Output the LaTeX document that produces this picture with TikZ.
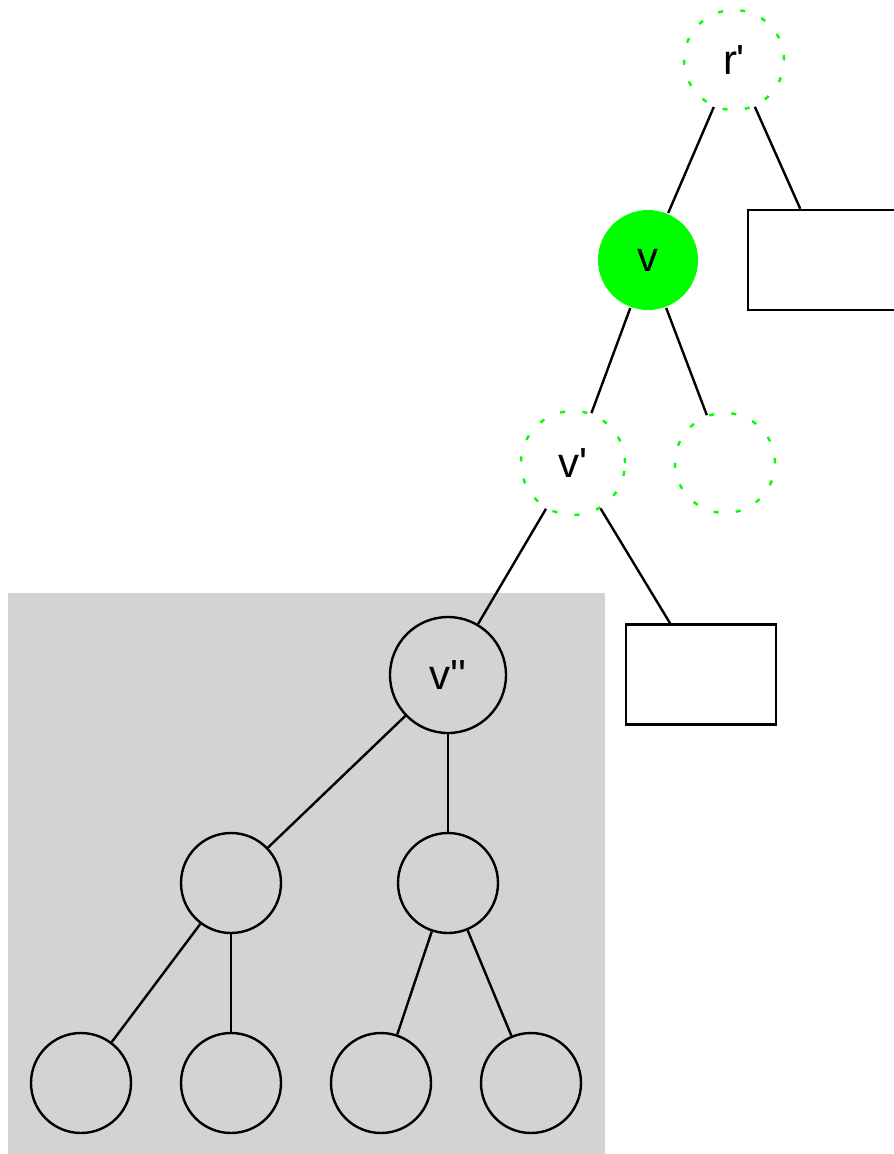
\documentclass[tikz,border=0pt]{standalone}
\usepackage{fontspec}
\setmainfont{Liberation Sans}
\definecolor{brightgreen}{HTML}{00FF00}
\definecolor{panelgray}{HTML}{D3D3D3}
\newcommand{\tick}{\textquotesingle}
\begin{document}
\begin{tikzpicture}[x=1pt,y=-1pt,line width=2.4pt,
  every node/.style={font=\fontsize{42}{50}\selectfont},
  tnode/.style={circle,draw=black,inner sep=0pt,minimum size=100pt},
  dotnode/.style={circle,draw=brightgreen,inner sep=0pt,minimum size=100pt,
    dash pattern=on 5pt off 17.4pt},
  hitnode/.style={circle,fill=brightgreen,inner sep=0pt,minimum size=100pt},
  leafbox/.style={rectangle,draw=black,inner sep=0pt,minimum width=150pt,minimum height=100pt},
  edge/.style={draw=black,line width=2.4pt}]
  \clip (0,0) rectangle (894,1154);
  \fill[white] (0,0) rectangle (894,1154);

  % shaded subtree region
  \fill[panelgray] (8,593) rectangle (605,1160);

  % upper path
  \node[dotnode] (r) at (734,60) {r\tick};
  \node[hitnode] (v) at (648,260) {v};
  \node[leafbox] (b1) at (823,260) {};
  \node[dotnode,minimum size=104pt] (vp) at (573,463) {v\tick};
  \node[dotnode] (e) at (725,463) {};
  \node[leafbox] (b2) at (701,674.5) {};

  % subtree
  \node[tnode,minimum size=116pt] (vpp) at (448,675) {v\tick\tick};
  \node[tnode] (m1) at (231,883) {};
  \node[tnode] (m2) at (448,883) {};
  \node[tnode] (l1) at (81,1083) {};
  \node[tnode] (l2) at (231,1083) {};
  \node[tnode] (l3) at (381,1083) {};
  \node[tnode] (l4) at (531,1083) {};

  % connectors
  \draw[edge] (r) -- (v);
  \draw[edge] (r) -- (b1);
  \draw[edge] (v) -- (vp);
  \draw[edge] (v) -- (e);
  \draw[edge] (vp) -- (vpp);
  \draw[edge] (vp) -- (b2);
  \draw[edge] (vpp) -- (m1);
  \draw[edge] (vpp) -- (m2);
  \draw[edge] (m1) -- (l1);
  \draw[edge] (m1) -- (l2);
  \draw[edge] (m2) -- (l3);
  \draw[edge] (m2) -- (l4);
\end{tikzpicture}
\end{document}
